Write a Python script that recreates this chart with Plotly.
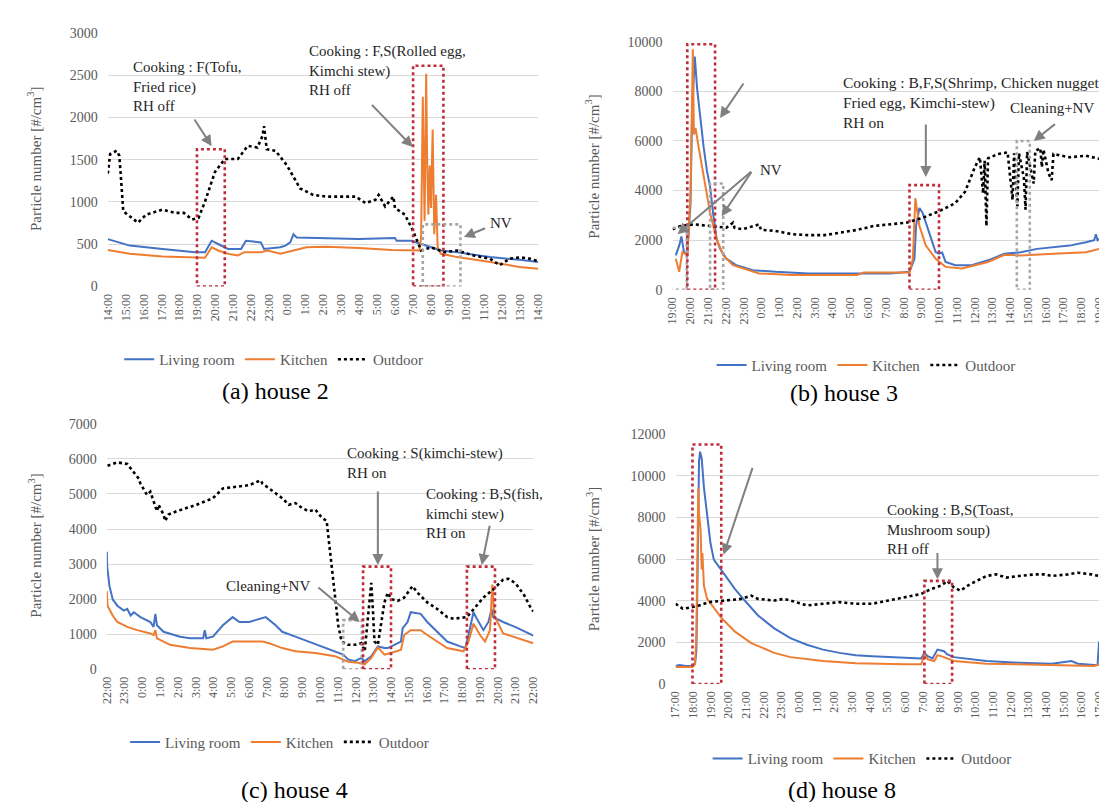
import plotly.graph_objects as go

W, H = 1107, 802
FONT = "Liberation Serif"
BLUE = "#4472C4"
ORANGE = "#ED7D31"
BLACK = "#000000"
RED = "#BE2D3C"
GRAYBOX = "#A6A6A6"
ARROW = "#808080"
TXT = "#595959"

SERIES_NAMES = ["Living room", "Kitchen", "Outdoor"]
Y_TITLE = "Particle number [#/cm<sup>3</sup>]"

# ---------------- (a) house 2 ----------------
A_TICKS = ["14:00", "15:00", "16:00", "17:00", "18:00", "19:00", "20:00", "21:00", "22:00", "23:00",
           "0:00", "1:00", "2:00", "3:00", "4:00", "5:00", "6:00", "7:00", "8:00", "9:00",
           "10:00", "11:00", "12:00", "13:00", "14:00"]
A_LIV_T = [0, 1.22, 3.05, 4.87, 5.42, 5.79, 6.15, 6.7, 7.43, 7.7, 8.53, 8.71, 9.62, 9.9, 10.17, 10.35,
           10.53, 12.18, 14.0, 16.01, 16.1, 16.93, 17.47, 18.57, 19.48, 21.31, 22.95, 24]
A_LIV_V = [561, 484, 445, 406, 406, 542, 503, 445, 445, 542, 522, 445, 464, 484, 522, 619,
           580, 573, 561, 573, 542, 542, 503, 426, 406, 348, 317, 290]
A_KIT_T = [0, 1.22, 3.05, 5.42, 5.79, 6.15, 6.7, 7.25, 7.61, 8.53, 8.89, 9.62, 10.35, 11.08, 12.18, 14.0,
           15.83, 17.02, 17.38, 17.47, 17.56, 17.66, 17.75, 17.8, 17.87, 17.95, 18.02, 18.11, 18.2, 18.3,
           18.39, 18.57, 19.48, 21.31, 22.95, 24]
A_KIT_V = [433, 387, 356, 341, 464, 426, 387, 368, 406, 406, 426, 387, 426, 464, 472, 457,
           433, 426, 426, 600, 2245, 774, 2516, 1548, 851, 1432, 929, 1858, 619, 1084,
           464, 387, 348, 290, 232, 210]
A_OUT_T = [0, 0.13, 0.49, 0.64, 0.71, 0.86, 1.22, 1.68, 2.14, 3.05, 3.78, 4.24, 4.69, 5.06, 5.42, 5.97,
           6.52, 7.25, 7.8, 8.34, 8.62, 8.71, 8.86, 9.35, 9.99, 10.72, 11.45, 12.18, 13.09, 13.82, 14.37,
           14.92, 15.1, 15.46, 15.92, 16.01, 16.56, 17.02, 17.47, 18.02, 18.75, 19.48, 20.39, 21.31, 21.85,
           22.4, 23.0, 23.5, 24]
A_OUT_V = [1335, 1567, 1606, 1548, 1354, 890, 832, 755, 851, 909, 871, 871, 793, 813, 1006, 1354,
           1509, 1509, 1664, 1645, 1780, 1896, 1625, 1606, 1432, 1161, 1084, 1064, 1064, 1064, 987,
           1026, 1084, 948, 1064, 929, 851, 658, 426, 464, 406, 426, 368, 329, 252,
           329, 345, 330, 300]
# boxes: (start h, end h, top value, kind)
A_BOXES = [(4.97, 6.52, 1625, "red"), (17.02, 18.71, 2612, "red"), (17.56, 19.66, 735, "gray")]
# arrows: (tail h, tail v, head h, head v)
A_ARROWS = [(4.78, 1993, 5.79, 1660), (14.64, 2167, 17.0, 1650), (21.12, 697, 19.85, 585)]
# notes: (h, top value, text)
A_NOTES = [(1.31, 2720, "Cooking : F(Tofu,<br>Fried rice)<br>RH off"),
           (11.08, 2910, "Cooking : F,S(Rolled egg,<br>Kimchi stew)<br>RH off")]
A_SIDE = [(21.22, 755, "NV")]

# ---------------- (b) house 3 ----------------
B_TICKS = ["19:00", "20:00", "21:00", "22:00", "23:00", "0:00", "1:00", "2:00", "3:00", "4:00",
           "5:00", "6:00", "7:00", "8:00", "9:00", "10:00", "11:00", "12:00", "13:00", "14:00",
           "15:00", "16:00", "17:00", "18:00", "19:00"]
B_LIV_T = [0.18, 0.37, 0.5, 0.64, 0.83, 1.01, 1.1, 1.25, 1.38, 1.56, 1.75, 1.93, 2.11, 2.3, 2.48, 2.67,
           3.03, 3.59, 4.51, 5.79, 7.63, 10.39, 12.23, 13.33, 13.61, 13.7, 13.89, 14.07, 14.44, 14.8,
           14.99, 15.17, 15.36, 15.91, 16.83, 17.75, 18.67, 19.59, 20.51, 21.43, 22.34, 23.26, 23.72,
           23.82, 23.91, 24]
B_LIV_V = [1385, 1780, 2150, 1517, 1451, 3495, 7190, 9400, 8112, 6925, 5738, 4814, 4155, 2968, 2044, 1649,
           1253, 989, 791, 725, 660, 660, 660, 725, 1253, 2572, 3298, 3100, 2308, 1517,
           1451, 1500, 1121, 989, 989, 1187, 1451, 1517, 1649, 1715, 1780, 1913, 2000,
           2242, 2000, 2050]
B_KIT_T = [0.18, 0.28, 0.37, 0.55, 0.83, 1.01, 1.14, 1.2, 1.29, 1.47, 1.75, 2.11, 2.48, 2.85, 3.4, 4.87,
           6.71, 10.39, 10.76, 13.33, 13.52, 13.66, 13.89, 14.25, 14.8, 15.36, 16.28, 17.75, 18.67,
           19.59, 21.43, 23.26, 24]
B_KIT_V = [1253, 900, 725, 1517, 1385, 3891, 9695, 6265, 6529, 5738, 4550, 3100, 2044, 1385, 989, 660,
           594, 594, 700, 700, 1253, 3693, 2572, 1780, 1253, 923, 857, 1121, 1411,
           1385, 1451, 1517, 1649]
B_OUT_T = [0, 0.46, 1.2, 2.11, 3.03, 3.4, 3.49, 3.95, 4.87, 4.97, 5.79, 6.71, 7.63, 8.55, 9.47, 10.39,
           11.31, 12.23, 13.15, 14.07, 14.99, 15.91, 16.46, 17.01, 17.29, 17.47, 17.56, 17.66, 17.75,
           18.3, 18.85, 19.13, 19.22, 19.4, 19.49, 19.77, 19.86, 19.95, 20.32, 20.41, 20.69, 20.78,
           20.87, 21.15, 21.33, 21.43, 22.34, 23.26, 24]
B_OUT_V = [2440, 2572, 2638, 2572, 2506, 2704, 2500, 2440, 2638, 2420, 2374, 2242, 2203, 2203, 2308, 2414,
           2572, 2638, 2704, 2902, 3166, 3495, 3957, 4946, 5342, 3891, 5200, 2572, 5300,
           5474, 5540, 3627, 5500, 3363, 5500, 4500, 3232, 5550, 4287, 5600, 5711, 4946,
           5650, 4700, 4419, 5474, 5342, 5408, 5276]
B_BOXES = [(-0.15, 0.8, 2500, "gray"), (0.83, 2.39, 9900, "red"), (2.11, 2.85, 4287, "gray"),
           (13.33, 14.99, 4220, "red"), (19.37, 20.1, 6000, "gray")]
B_ARROWS = [(4.05, 8376, 2.67, 6925), (4.5, 4814, 0.28, 2242), (4.5, 4814, 2.76, 2968),
            (14.25, 6727, 14.25, 4550), (21.6, 6727, 20.32, 6001)]
B_NOTES = [(3.03, 10900, "Cooking : B,F,S(Fish, Fish cake<br>Kimchi-stew)<br>RH on"),
           (9.5, 8800, "Cooking : B,F,S(Shrimp, Chicken nugget<br>Fried egg, Kimchi-stew)<br>RH on")]
B_SIDE = [(18.85, 7321, "Cleaning+NV"), (4.78, 4828, "NV")]

# ---------------- (c) house 4 ----------------
C_TICKS = ["22:00", "23:00", "0:00", "1:00", "2:00", "3:00", "4:00", "5:00", "6:00", "7:00",
           "8:00", "9:00", "10:00", "11:00", "12:00", "13:00", "14:00", "15:00", "16:00", "17:00",
           "18:00", "19:00", "20:00", "21:00", "22:00"]
C_LIV_T = [0, 0.02, 0.15, 0.33, 0.59, 0.96, 1.15, 1.34, 1.52, 1.89, 2.45, 2.63, 2.73, 2.82, 3.19, 4.12,
           4.68, 5.42, 5.51, 5.6, 5.97, 6.53, 7.08, 7.46, 8.01, 8.57, 8.94, 9.5, 9.87, 10.61, 11.35,
           12.1, 12.84, 13.3, 13.58, 13.95, 14.32, 14.51, 14.88, 15.25, 15.62, 15.81, 16.18, 16.55,
           16.64, 16.92, 17.1, 17.66, 18.03, 18.59, 19.15, 19.89, 20.17, 20.35, 20.63, 20.82, 21.19,
           21.47, 21.65, 21.74, 22.3, 23.0, 24]
C_LIV_V = [3350, 2928, 2370, 1998, 1813, 1673, 1720, 1534, 1627, 1487, 1348, 1208, 1580, 1255, 1069, 929,
           883, 883, 1115, 883, 929, 1255, 1487, 1348, 1348, 1441, 1487, 1255, 1069, 929, 790,
           651, 511, 418, 279, 232, 325, 232, 372, 651, 604, 604, 697, 790,
           1162, 1348, 1627, 1580, 1348, 1069, 790, 651, 604, 976, 1627, 1441, 1115,
           1348, 1720, 1487, 1348, 1200, 960]
C_KIT_T = [0, 0.04, 0.33, 0.59, 1.15, 1.71, 2.45, 2.63, 2.73, 2.82, 3.56, 4.68, 5.97, 6.53, 7.08, 7.83,
           8.76, 9.13, 9.87, 10.61, 11.73, 12.84, 13.58, 14.14, 14.51, 14.88, 15.25, 15.62, 16.0,
           16.55, 16.73, 17.1, 17.66, 18.03, 18.59, 19.15, 20.07, 20.35, 20.63, 21.0, 21.28, 21.56,
           21.69, 21.8, 22.3, 23.0, 24]
C_KIT_V = [2231, 1813, 1534, 1348, 1208, 1115, 1022, 976, 1115, 883, 697, 604, 558, 651, 790, 790,
           790, 744, 604, 511, 465, 372, 214, 186, 140, 325, 623, 418, 465,
           558, 976, 1115, 1115, 976, 790, 604, 511, 790, 1301, 976, 790, 1115,
           2417, 1534, 1022, 900, 740]
C_OUT_T = [0.04, 0.59, 1.15, 1.52, 1.8, 1.89, 2.26, 2.45, 2.63, 2.82, 2.91, 3.19, 3.28, 3.47, 3.93, 5.05,
           5.97, 6.53, 7.27, 8.01, 8.66, 8.76, 9.13, 9.87, 10.24, 10.61, 10.98, 11.35, 11.73, 12.1,
           12.37, 12.47, 12.65, 12.84, 13.02, 13.21, 13.58, 13.95, 14.32, 14.51, 14.69, 14.88, 14.97,
           15.06, 15.25, 15.44, 15.62, 15.81, 16.0, 16.36, 16.73, 17.2, 17.48, 18.03, 18.59, 19.15,
           19.52, 20.26, 20.63, 21.19, 21.74, 22.3, 22.6, 23.0, 23.5, 23.8, 24]
C_OUT_V = [5809, 5902, 5856, 5623, 5437, 5298, 4973, 5066, 4787, 4508, 4694, 4415, 4229, 4415, 4508, 4694,
           4880, 5159, 5205, 5252, 5391, 5298, 5159, 4880, 4694, 4741, 4601, 4508, 4555, 4322,
           4229, 3764, 3114, 2184, 1255, 790, 697, 697, 744, 511, 1534, 2463, 1720,
           790, 697, 1255, 1906, 2184, 1998, 1952, 2045, 2370, 2184, 1906, 1720, 1487,
           1441, 1487, 1720, 2045, 2277, 2556, 2580, 2450, 2100, 1800, 1650]
C_BOXES = [(13.3, 14.35, 1400, "gray"), (14.42, 15.99, 2928, "red"), (20.26, 21.84, 2928, "red")]
C_ARROWS = [(11.82, 2370, 14.23, 1348), (15.25, 5112, 15.25, 2974), (21.56, 4136, 21.1, 2974)]
C_NOTES = [(13.4, 6461, "Cooking : S(kimchi-stew)<br>RH on"),
           (17.85, 5298, "Cooking : B,S(fish,<br>kimchi stew)<br>RH on")]
C_SIDE = [(6.62, 2370, "Cleaning+NV")]

# ---------------- (d) house 8 ----------------
D_TICKS = ["17:00", "18:00", "19:00", "20:00", "21:00", "22:00", "23:00", "0:00", "1:00", "2:00",
           "3:00", "4:00", "5:00", "6:00", "7:00", "8:00", "9:00", "10:00", "11:00", "12:00",
           "13:00", "14:00", "15:00", "16:00", "17:00"]
D_LIV_T = [0, 0.22, 0.59, 0.96, 1.11, 1.18, 1.24, 1.29, 1.33, 1.39, 1.48, 1.61, 1.79, 1.98, 2.17, 2.44,
           2.81, 3.37, 3.92, 4.66, 5.59, 6.51, 7.44, 8.36, 9.29, 10.21, 11.14, 12.06, 13.18, 13.92,
           14.1, 14.29, 14.56, 14.84, 15.21, 15.4, 15.77, 16.69, 17.62, 19.47, 21.32, 22.43, 22.8,
           23.72, 23.91, 24]
D_LIV_V = [865, 912, 865, 865, 1022, 1573, 4718, 7864, 10694, 11166, 10852, 9436, 8021, 6763, 5976, 5662,
           5190, 4561, 4010, 3303, 2674, 2202, 1887, 1651, 1494, 1384, 1337, 1290, 1258, 1227,
           1494, 1337, 1227, 1651, 1573, 1415, 1290, 1180, 1101, 1022, 975, 1101, 975,
           912, 912, 2045]
D_KIT_T = [0, 0.96, 1.11, 1.18, 1.24, 1.29, 1.33, 1.42, 1.48, 1.52, 1.61, 1.79, 2.07, 2.63, 3.37, 4.29,
           5.59, 6.51, 8.36, 10.21, 12.99, 13.92, 14.1, 14.29, 14.66, 14.84, 15.21, 15.77, 17.62,
           21.32, 23.72, 24]
D_KIT_V = [818, 818, 944, 2359, 6291, 9436, 8178, 7392, 5505, 6291, 4718, 4089, 3774, 3145, 2516, 1966,
           1494, 1290, 1101, 991, 944, 944, 1415, 1180, 1101, 1384, 1290, 1101, 975,
           896, 865, 944]
D_OUT_T = [0, 0.41, 0.96, 1.33, 1.89, 2.81, 3.74, 4.29, 4.66, 5.59, 6.14, 6.51, 7.44, 8.36, 9.29, 10.21,
           11.14, 12.06, 12.99, 13.92, 14.47, 15.03, 15.4, 15.77, 16.14, 16.69, 17.25, 17.62, 18.17,
           18.73, 19.47, 20.39, 20.95, 21.32, 22.24, 22.8, 23.54, 24]
D_OUT_V = [3853, 3617, 3696, 3774, 3932, 4010, 4089, 4246, 4089, 4010, 4089, 4010, 3774, 3853, 3932, 3853,
           3853, 4010, 4168, 4325, 4561, 4718, 4954, 4640, 4482, 4797, 5033, 5190, 5269,
           5112, 5190, 5269, 5269, 5190, 5269, 5347, 5269, 5190]
D_BOXES = [(0.96, 2.59, 11512, "red"), (14.1, 15.67, 4954, "red")]
D_ARROWS = [(4.39, 10458, 2.72, 6212), (14.84, 6369, 14.84, 5033)]
D_NOTES = [(3.0, 13000, "Cooking : B,F,S(Beef,<br>Mushroom, Noodle soup)<br>RH on"),
           (11.88, 8850, "Cooking : B,S(Toast,<br>Mushroom soup)<br>RH off")]
D_SIDE = []

PANELS = [
    dict(k="", ticks=A_TICKS, liv=(A_LIV_T, A_LIV_V), kit=(A_KIT_T, A_KIT_V), out=(A_OUT_T, A_OUT_V),
         ymax=3000, dtick=500, boxes=A_BOXES, arrows=A_ARROWS, notes=A_NOTES, side=A_SIDE, nfs=15,
         xpx=(94, 530), ypx=(18.3, 276.7), cap="(a) house 2", cap_xy=(264, 383), leg_xy=(262, 351),
         ttl_xy=(20, 147)),
    dict(k="2", ticks=B_TICKS, liv=(B_LIV_T, B_LIV_V), kit=(B_KIT_T, B_KIT_V), out=(B_OUT_T, B_OUT_V),
         ymax=10000, dtick=2000, boxes=B_BOXES, arrows=B_ARROWS, notes=B_NOTES, side=B_SIDE, nfs=15.5,
         xpx=(666, 1098), ypx=(27.3, 280), cap="(b) house 3", cap_xy=(840, 385), leg_xy=(862, 357),
         ttl_xy=(585, 155)),
    dict(k="3", ticks=C_TICKS, liv=(C_LIV_T, C_LIV_V), kit=(C_KIT_T, C_KIT_V), out=(C_OUT_T, C_OUT_V),
         ymax=7000, dtick=1000, boxes=C_BOXES, arrows=C_ARROWS, notes=C_NOTES, side=C_SIDE, nfs=15,
         xpx=(93, 525), ypx=(416.7, 666.7), cap="(c) house 4", cap_xy=(283, 790), leg_xy=(268, 741),
         ttl_xy=(20, 541)),
    dict(k="4", ticks=D_TICKS, liv=(D_LIV_T, D_LIV_V), kit=(D_KIT_T, D_KIT_V), out=(D_OUT_T, D_OUT_V),
         ymax=12000, dtick=2000, boxes=D_BOXES, arrows=D_ARROWS, notes=D_NOTES, side=D_SIDE, nfs=15,
         xpx=(669, 1098), ypx=(427.3, 681.7), cap="(d) house 8", cap_xy=(838, 790), leg_xy=(858, 758),
         ttl_xy=(585, 555)),
]


def fx(px):
    return px / W


def fy(py):
    return 1 - py / H


fig = go.Figure()
shapes = []
annotations = []
layout = dict(width=W, height=H, margin=dict(l=0, r=0, t=0, b=0),
              paper_bgcolor="white", plot_bgcolor="white",
              font=dict(family=FONT, color=TXT))

for i, p in enumerate(PANELS):
    k = p["k"]
    xa, ya = "x" + k, "y" + k
    leg = "legend" + k
    styles = [(p["liv"], BLUE, "solid", 2), (p["kit"], ORANGE, "solid", 2), (p["out"], BLACK, "dot", 2.6)]
    for name, (data, col, dash, lw) in zip(SERIES_NAMES, styles):
        fig.add_trace(go.Scatter(x=data[0], y=data[1], mode="lines", name=name,
                                 line=dict(color=col, width=lw, dash=dash),
                                 xaxis=xa, yaxis=ya, legend=leg, showlegend=True))
    xkey = "xaxis" + k
    ykey = "yaxis" + k
    layout[xkey] = dict(domain=[fx(p["xpx"][0]), fx(p["xpx"][1])], anchor=ya, range=[0, 24],
                        tickmode="array", tickvals=list(range(len(p["ticks"]))), ticktext=p["ticks"],
                        tickangle=-90, tickfont=dict(size=12, color=TXT, family=FONT),
                        ticklabelstandoff=4,
                        showgrid=False, zeroline=False, showline=False, ticks="", fixedrange=True)
    layout[ykey] = dict(domain=[fy(p["ypx"][1]), fy(p["ypx"][0])], anchor=xa, range=[0, p["ymax"]],
                        tick0=0, dtick=p["dtick"], tickformat="d", showgrid=True, gridcolor="#D9D9D9",
                        gridwidth=1, zeroline=False, showline=False, ticks="", ticklabelstandoff=9,
                        tickfont=dict(size=14, color=TXT, family=FONT), fixedrange=True)
    layout[leg] = dict(orientation="h", x=fx(p["leg_xy"][0]), y=fy(p["leg_xy"][1]),
                       xanchor="center", yanchor="middle", bgcolor="rgba(0,0,0,0)",
                       font=dict(size=15, color=TXT, family=FONT), itemwidth=30,
                       traceorder="normal")
    for (h0, h1, top, kind) in p["boxes"]:
        shapes.append(dict(type="rect", xref=xa, yref=ya, x0=h0, x1=h1, y0=0, y1=top,
                           line=dict(color=RED if kind == "red" else GRAYBOX, width=2.6, dash="dot"),
                           fillcolor="rgba(0,0,0,0)", layer="above"))
    for (th, tv, hh, hv) in p["arrows"]:
        annotations.append(dict(x=hh, y=hv, ax=th, ay=tv, xref=xa, yref=ya, axref=xa, ayref=ya,
                                text="", showarrow=True, arrowhead=2, arrowsize=1.1, arrowwidth=2,
                                arrowcolor=ARROW, standoff=0))
    for (h, v, txt) in p["notes"]:
        annotations.append(dict(x=h, y=v, xref=xa, yref=ya, text=txt, showarrow=False,
                                xanchor="left", yanchor="top", align="left",
                                font=dict(size=p["nfs"], color="#262626", family=FONT)))
    for (h, v, txt) in p["side"]:
        annotations.append(dict(x=h, y=v, xref=xa, yref=ya, text=txt, showarrow=False,
                                xanchor="left", yanchor="middle", align="left",
                                font=dict(size=15, color="#262626", family=FONT)))
    annotations.append(dict(x=fx(p["cap_xy"][0]), y=fy(p["cap_xy"][1]), xref="paper", yref="paper",
                            text=p["cap"], showarrow=False, xanchor="center", yanchor="middle",
                            font=dict(size=24, color="#000000", family=FONT)))
    annotations.append(dict(x=fx(p["ttl_xy"][0]), y=fy(p["ttl_xy"][1]), xref="paper", yref="paper",
                            text=Y_TITLE, showarrow=False, textangle=-90, xanchor="center",
                            yanchor="middle", font=dict(size=15, color=TXT, family=FONT)))

layout["shapes"] = shapes
layout["annotations"] = annotations
layout["showlegend"] = True
fig.update_layout(**layout)
fig.write_html("out.html")
